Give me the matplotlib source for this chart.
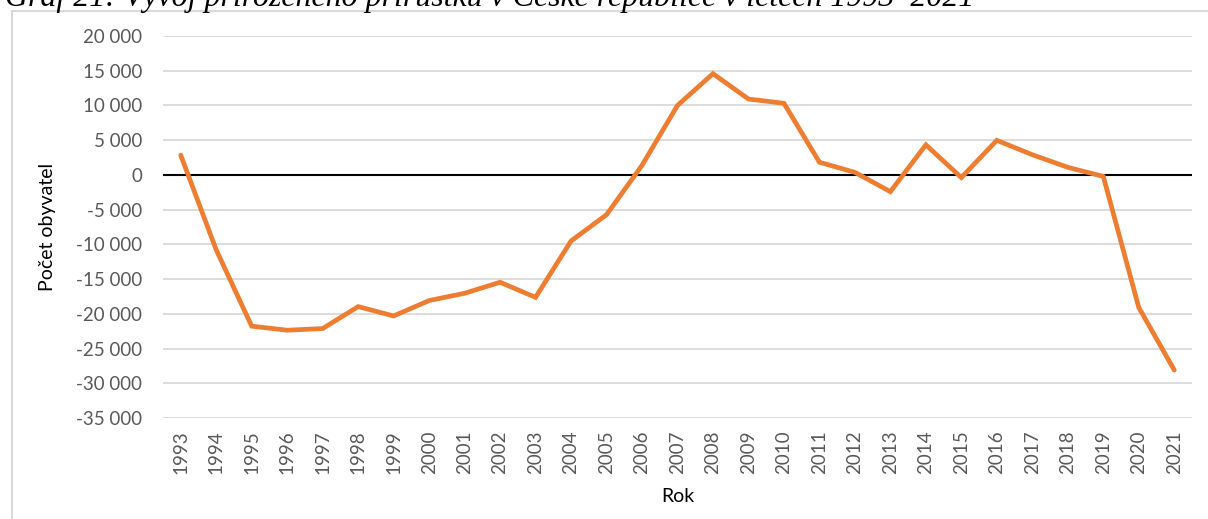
import matplotlib
matplotlib.use("Agg")
import matplotlib.pyplot as plt
from matplotlib.lines import Line2D

years = [str(y) for y in range(1993, 2022)]
values = [2840, -10794, -21778, -22362, -22118, -18962, -20307, -18091, -17040,
          -15457, -17627, -9513, -5727, 1380, 10002, 14573, 10927, 10309, 1825,
          367, -2409, 4330, -380, 4978, 2904, 1096, -216, -19089, -28098]
ytick_vals = [20000, 15000, 10000, 5000, 0, -5000, -10000, -15000, -20000,
              -25000, -30000, -35000]
ytick_labels = ["20 000", "15 000", "10 000", "5 000", "0", "-5 000", "-10 000",
                "-15 000", "-20 000", "-25 000", "-30 000", "-35 000"]
title = "Graf 21: Vývoj přirozeného přírůstku v České republice v letech 1993–2021"

W, H = 1208, 519
fig = plt.figure(figsize=(W / 100, H / 100), dpi=100)
font = ["Lato", "DejaVu Sans"]

ax = fig.add_axes([163 / W, 1 - 418 / H, (1192 - 163) / W, (418 - 36) / H])
x = list(range(len(years)))
for v in ytick_vals:
    if v == 0:
        continue
    ax.axhline(v, color="#d9d9d9", lw=1.3, zorder=1)
ax.axhline(0, color="black", lw=1.5, zorder=2)
ax.plot(x, values, color="#ED7D31", lw=3.4, solid_capstyle="round",
        solid_joinstyle="miter", zorder=3)
ax.set_xlim(-0.5, len(years) - 0.5)
ax.set_ylim(-35000, 20000)
ax.set_yticks(ytick_vals)
ax.set_yticklabels(ytick_labels, fontfamily=font, fontsize=13.5, color="#595959")
ax.set_xticks(x)
ax.set_xticklabels(years, rotation=90, fontfamily=font, fontsize=13.5, color="#595959")
ax.tick_params(length=0)
ax.tick_params(axis="y", pad=15)
ax.tick_params(axis="x", pad=9)
for s in ax.spines.values():
    s.set_visible(False)
ax.set_ylabel("Počet obyvatel", fontfamily=font, fontsize=14, color="black", labelpad=14)
ax.set_xlabel("Rok", fontfamily=font, fontsize=14, color="black", labelpad=10)

# chart frame (top & left edges visible)
fig.add_artist(Line2D([12 / W, 1], [1 - 10.5 / H, 1 - 10.5 / H], color="#d9d9d9", lw=1.5))
fig.add_artist(Line2D([12 / W, 12 / W], [0, 1 - 10.5 / H], color="#d9d9d9", lw=1.5))

# caption at top, cropped by the figure edge as in the reference
t = fig.text(5 / W, 1 - 6 / H, title, fontfamily=["Liberation Serif", "DejaVu Serif"],
             style="italic", fontsize=20, va="baseline", ha="left", color="black")
fig.canvas.draw()
bb = t.get_window_extent()
t.set_fontsize(20 * (970 / bb.width))

fig.savefig("out.png", dpi=100)
